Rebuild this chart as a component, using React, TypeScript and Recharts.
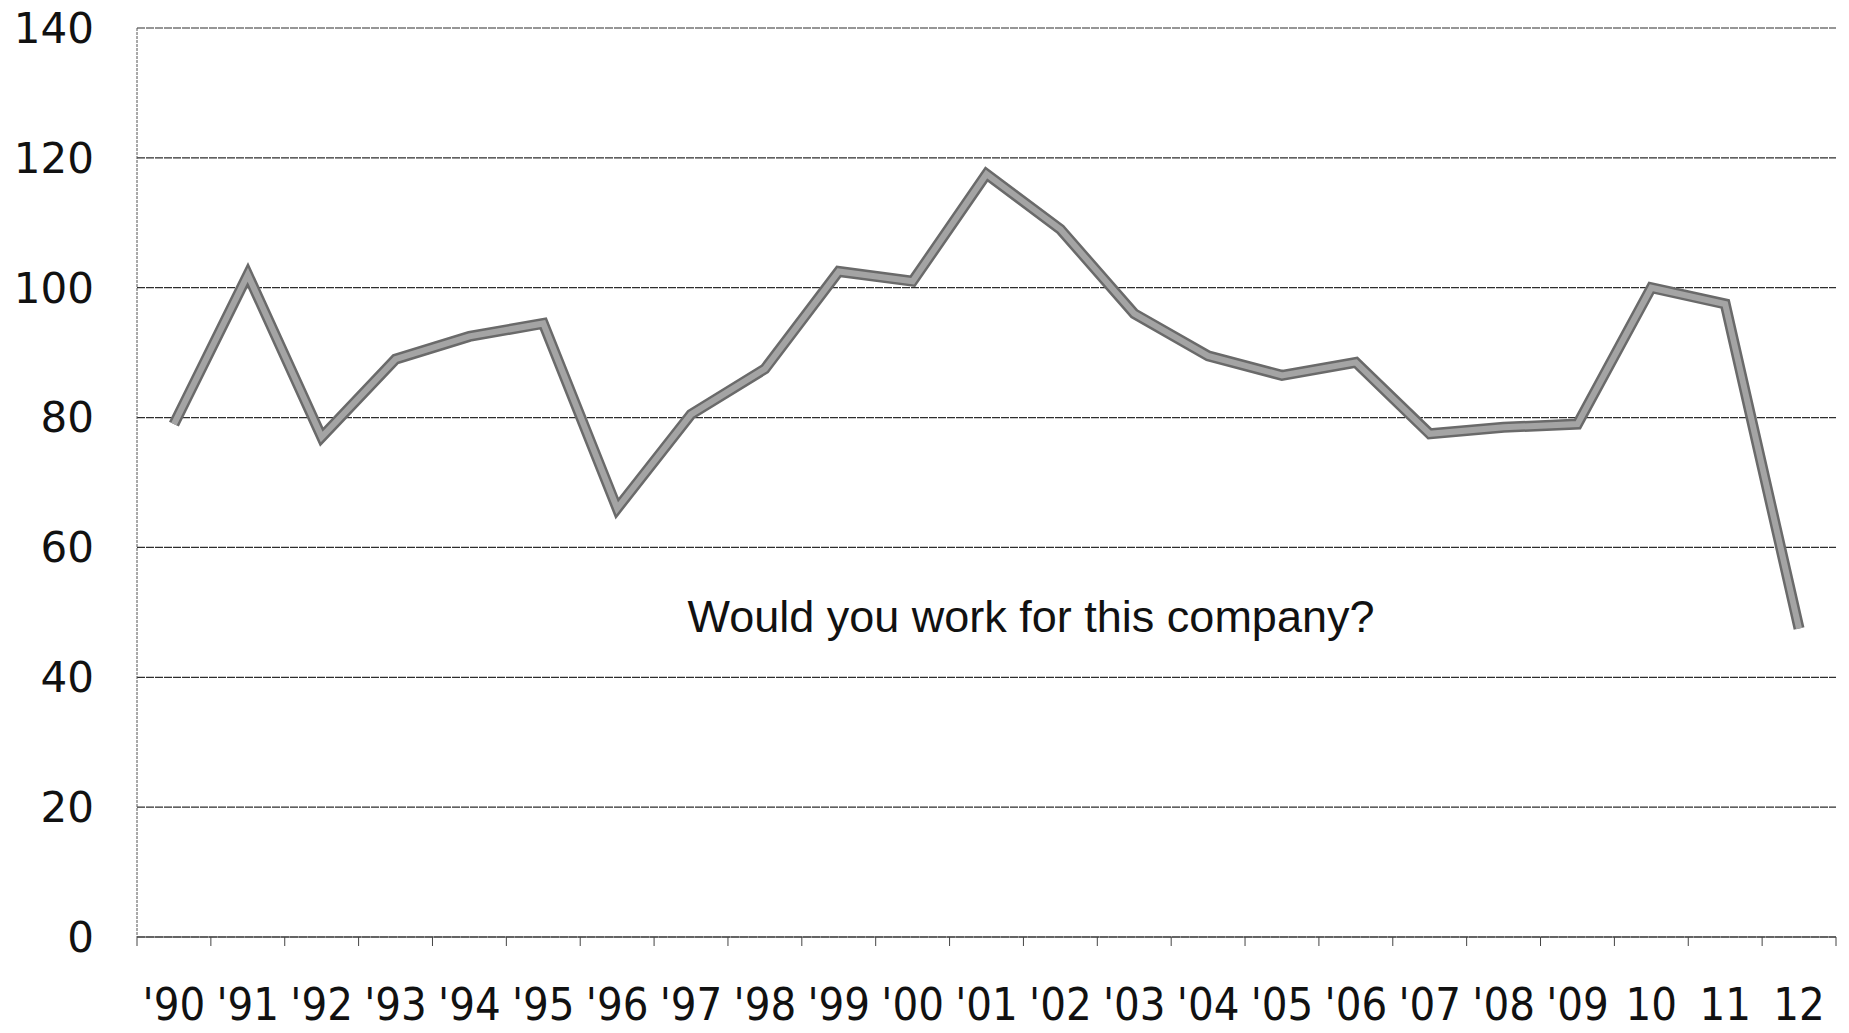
import { LineChart, Line, XAxis, YAxis, CartesianGrid } from "recharts";

// Category labels along the bottom
const YEARS = [
  "'90", "'91", "'92", "'93", "'94", "'95", "'96", "'97", "'98", "'99", "'00",
  "'01", "'02", "'03", "'04", "'05", "'06", "'07", "'08", "'09", "10", "11", "12",
];

// Index values
const VALUES = [
  79, 102, 77, 89, 92.5, 94.5, 66, 80.5, 87.5, 102.5, 101,
  117.5, 109, 96, 89.5, 86.5, 88.5, 77.5, 78.5, 79, 100, 97.5, 47.5,
];

const Y_TICKS = [0, 20, 40, 60, 80, 100, 120, 140];

const TITLE = "Would you work for this company?";

const W = 1849;
const H = 1033;

// each year sits in the middle of its slot, slot edges get the tick marks
const chartData = YEARS.map((year, i) => ({ x: i + 0.5, year, value: VALUES[i] }));
const xTicks: number[] = [];
for (let i = 0; i <= YEARS.length; i++) {
  xTicks.push(i);
  if (i < YEARS.length) xTicks.push(i + 0.5);
}

function XTick(props: any) {
  const { x, y, payload } = props;
  const v = payload.value as number;
  if (Number.isInteger(v)) {
    return <line x1={x} x2={x} y1={y} y2={y + 9} stroke="#444" strokeWidth={1} />;
  }
  return (
    <text
      x={x}
      y={y + 83}
      textAnchor="middle"
      fontFamily="'DejaVu Sans Condensed', 'DejaVu Sans', sans-serif"
      fontSize={45}
      fill="#111"
    >
      {YEARS[Math.floor(v)]}
    </text>
  );
}

export default function App() {
  return (
    <div style={{ position: "absolute", left: 0, top: 0, width: W, height: H, background: "#fff" }}>
      <LineChart
        width={W}
        height={H}
        data={chartData}
        margin={{ top: 28, right: 13, left: 0, bottom: 0 }}
      >
        <CartesianGrid vertical={false} stroke="#2e2e2e" strokeWidth={1.2} strokeDasharray="8 1" />
        <XAxis
          dataKey="x"
          type="number"
          domain={[0, YEARS.length]}
          ticks={xTicks}
          interval={0}
          tickLine={false}
          tickSize={0}
          tickMargin={0}
          height={96}
          tick={XTick}
          axisLine={{ stroke: "#333", strokeWidth: 1.2 }}
        />
        <YAxis
          domain={[0, 140]}
          ticks={Y_TICKS}
          interval={0}
          width={137}
          tickLine={false}
          tickSize={0}
          tickMargin={43}
          axisLine={{ stroke: "#555", strokeWidth: 1, strokeDasharray: "3 1" }}
          tick={{ fill: "#111", fontSize: 42, fontFamily: "'DejaVu Sans', sans-serif" }}
        />
        <Line
          type="linear"
          dataKey="value"
          stroke="#6a6a6a"
          strokeWidth={11}
          dot={false}
          activeDot={false}
          isAnimationActive={false}
        />
        <Line
          type="linear"
          dataKey="value"
          stroke="#a4a4a4"
          strokeWidth={6}
          dot={false}
          activeDot={false}
          isAnimationActive={false}
        />
      </LineChart>
      <svg
        width={W}
        height={H}
        style={{ position: "absolute", left: 0, top: 0, pointerEvents: "none" }}
      >
        <text
          x={1031}
          y={632}
          textAnchor="middle"
          fontFamily="'Liberation Sans', Arial, sans-serif"
          fontSize={45}
          fill="#111"
        >
          {TITLE}
        </text>
      </svg>
    </div>
  );
}
